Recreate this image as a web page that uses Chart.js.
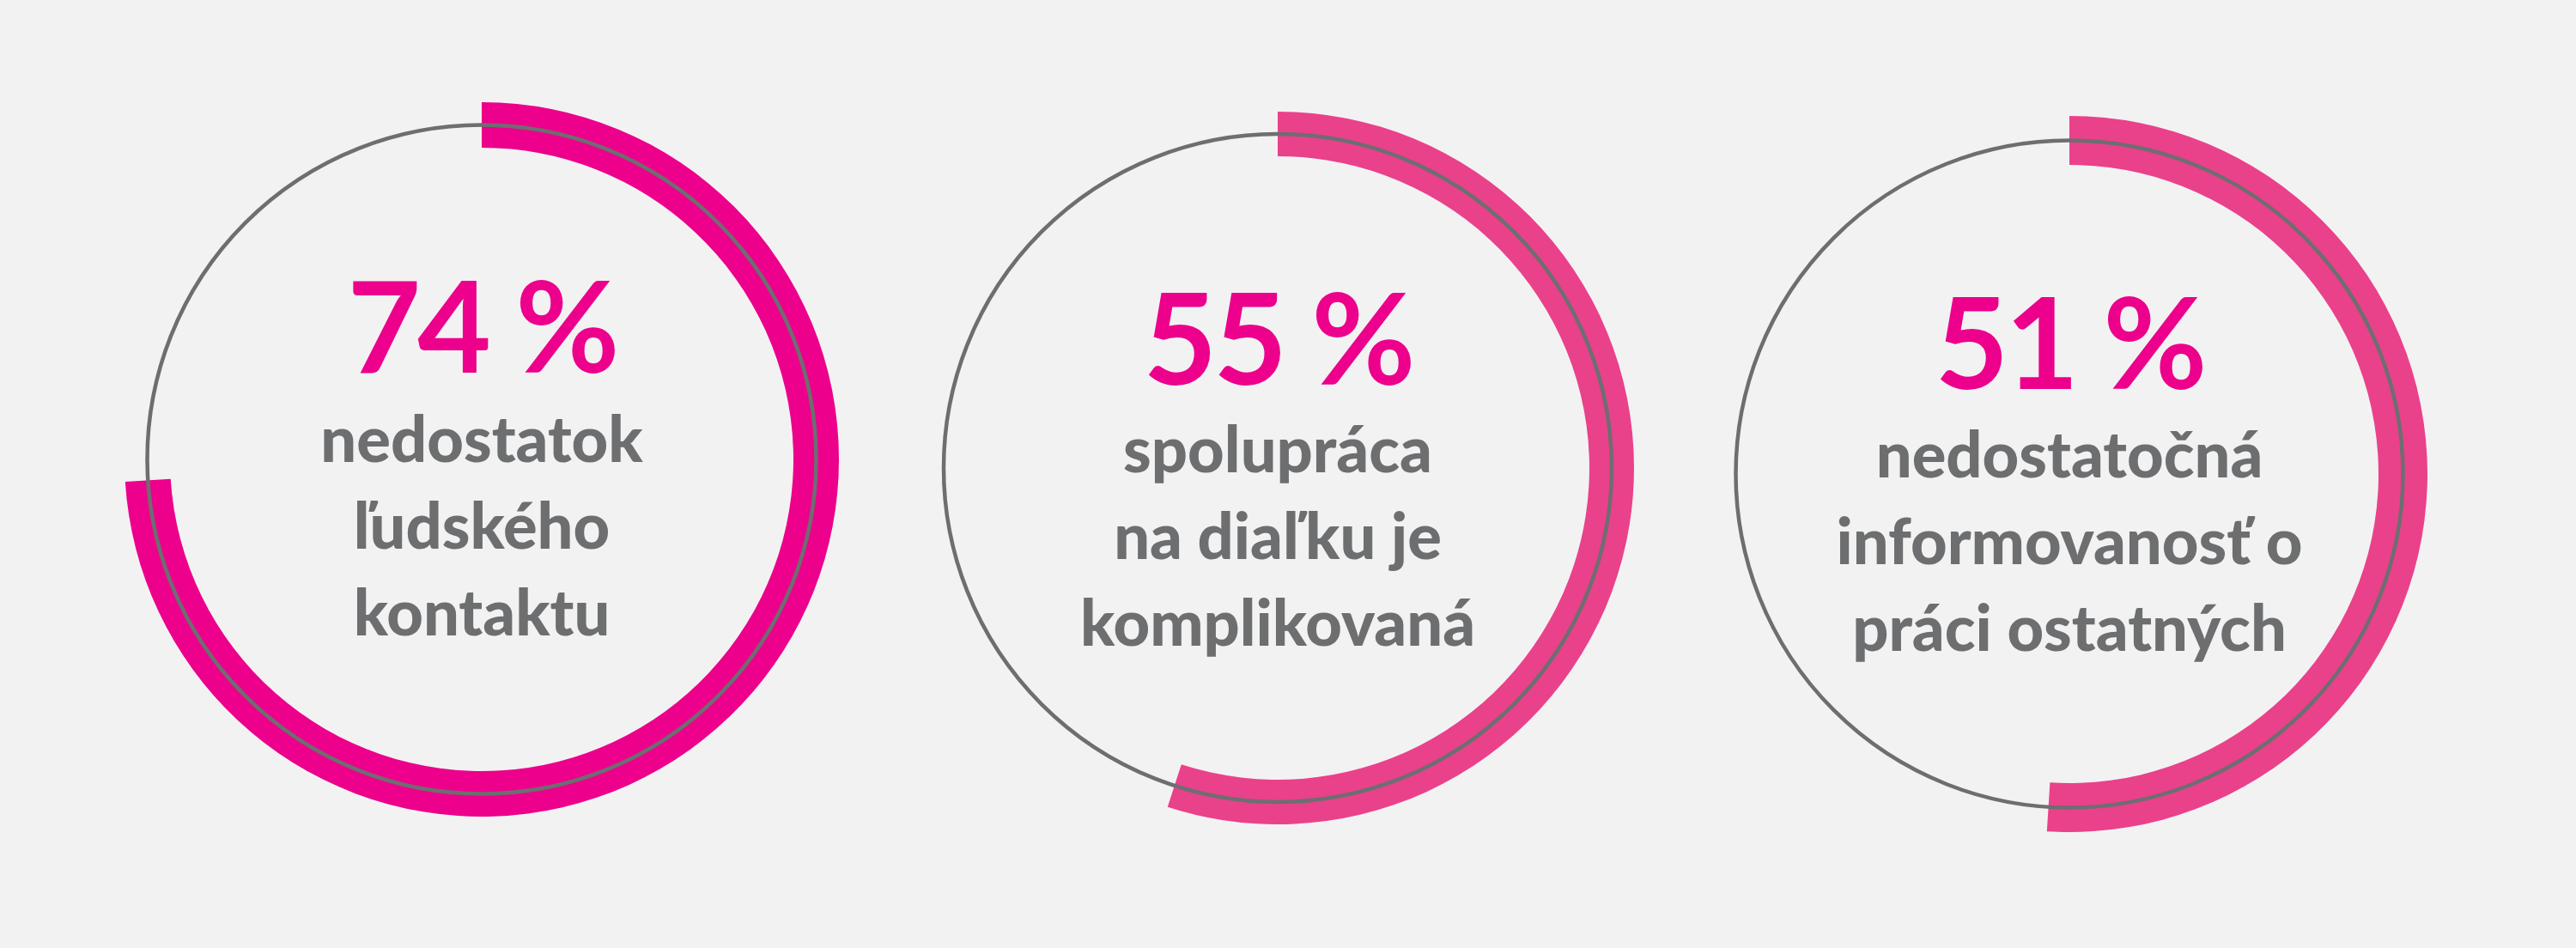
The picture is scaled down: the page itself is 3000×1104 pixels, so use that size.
<!DOCTYPE html>
<html lang="sk">
<head>
<meta charset="utf-8">
<title>Prekážky práce na diaľku</title>
<script src="https://cdn.jsdelivr.net/npm/chart.js@4.4.1/dist/chart.umd.min.js"></script>
<style>
    html, body {
        margin: 0;
        padding: 0;
        width: 3000px;
        height: 1104px;
        overflow: hidden;
        background: #f2f2f2;
        font-family: Lato, "Open Sans", "Noto Sans", sans-serif;
    }
    .ring {
        position: absolute;
    }
    .ring canvas {
        display: block;
    }
    .value {
        position: absolute;
        width: 800px;
        text-align: center;
        color: #ec008c;
        font-weight: 700;
        letter-spacing: -4px;
        white-space: nowrap;
    }
    .caption {
        position: absolute;
        width: 800px;
        text-align: center;
        color: #6d6e70;
        font-weight: 900;
        white-space: nowrap;
    }
</style>
</head>
<body>
<script>
// ============================================================
//  DATA
// ============================================================

const values = [74, 55, 51];
const captions = [
    ['nedostatok', 'ľudského', 'kontaktu'],
    ['spolupráca', 'na diaľku je', 'komplikovaná'],
    ['nedostatočná', 'informovanosť o', 'práci ostatných']
];
const arcColors = ['#ec008c', '#ea418b', '#ea418b'];

// ============================================================
//  LAYOUT (pixels in the 3000x1104 page)
// ============================================================

const VALUE_SIZE = 148;
const CAPTION_SIZE = 74;
const CAPTION_LINE = 101;
const TRACK_COLOR = '#6d6e70';

const layout = [
    { cx: 561,  cy: 535, r: 416, cutout: '87.26%', valueBase: 434, captionBase: 538 },
    { cx: 1488, cy: 545, r: 415, cutout: '87.47%', valueBase: 448, captionBase: 550 },
    { cx: 2410, cy: 552, r: 417, cutout: '86.33%', valueBase: 453, captionBase: 556 }
];

// ============================================================
//  PLUGIN: thin grey track through the middle of the ring
// ============================================================

const trackPlugin = {
    id: 'track',
    afterDatasetsDraw(chart, args, opts) {
        const arc = chart.getDatasetMeta(0).data[0];
        if (!arc) return;
        const { x, y, innerRadius, outerRadius } =
            arc.getProps(['x', 'y', 'innerRadius', 'outerRadius'], true);
        const ctx = chart.ctx;
        ctx.save();
        ctx.beginPath();
        ctx.arc(x, y, (innerRadius + outerRadius) / 2, 0, Math.PI * 2);
        ctx.lineWidth = opts.width;
        ctx.strokeStyle = opts.color;
        ctx.stroke();
        ctx.restore();
    }
};

// ============================================================
//  RENDER
// ============================================================

values.forEach((value, i) => {
    const L = layout[i];

    // doughnut ring
    const box = document.createElement('div');
    box.className = 'ring';
    box.style.left = (L.cx - L.r) + 'px';
    box.style.top = (L.cy - L.r) + 'px';
    const canvas = document.createElement('canvas');
    canvas.width = L.r * 2;
    canvas.height = L.r * 2;
    box.appendChild(canvas);
    document.body.appendChild(box);

    new Chart(canvas, {
        type: 'doughnut',
        data: {
            labels: ['', ''],
            datasets: [{
                data: [value, 100 - value],
                backgroundColor: [arcColors[i], 'rgba(0,0,0,0)'],
                borderWidth: 0,
                hoverOffset: 0
            }]
        },
        options: {
            responsive: false,
            animation: false,
            events: [],
            cutout: L.cutout,
            radius: '100%',
            layout: { padding: 0 },
            plugins: {
                legend: { display: false },
                tooltip: { enabled: false },
                track: { color: TRACK_COLOR, width: 4.5 }
            }
        },
        plugins: [trackPlugin]
    });

    // big percentage
    const num = document.createElement('div');
    num.className = 'value';
    num.textContent = value + ' %';
    num.style.fontSize = VALUE_SIZE + 'px';
    num.style.lineHeight = VALUE_SIZE + 'px';
    num.style.left = (L.cx - 400) + 'px';
    num.style.top = (L.valueBase - 0.887 * VALUE_SIZE) + 'px';
    document.body.appendChild(num);

    // caption lines
    const cap = document.createElement('div');
    cap.className = 'caption';
    cap.innerHTML = captions[i].join('<br>');
    cap.style.fontSize = CAPTION_SIZE + 'px';
    cap.style.lineHeight = CAPTION_LINE + 'px';
    cap.style.left = (L.cx - 400) + 'px';
    cap.style.top = (L.captionBase - CAPTION_LINE / 2 - 0.387 * CAPTION_SIZE) + 'px';
    document.body.appendChild(cap);
});
</script>
</body>
</html>
